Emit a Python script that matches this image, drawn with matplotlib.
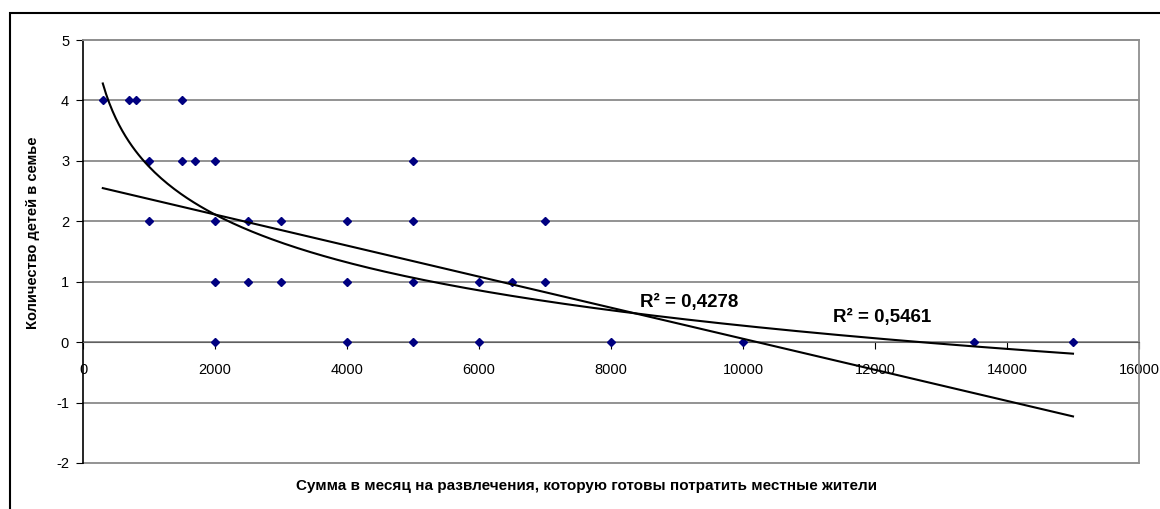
import numpy as np
import matplotlib.pyplot as plt
from matplotlib.patches import Rectangle

plt.rcParams['font.family'] = ['Liberation Sans', 'DejaVu Sans']
plt.rcParams['axes.unicode_minus'] = False

# spending per month (rub) and number of children, grouped by children count
spend_4 = [300, 700, 800, 1500]
spend_3 = [1000, 1500, 1700, 2000, 5000]
spend_2 = [1000, 2000, 2500, 3000, 4000, 5000, 7000]
spend_1 = [2000, 2500, 3000, 4000, 5000, 6000, 6500, 7000]
spend_0 = [2000, 4000, 5000, 6000, 8000, 10000, 13500, 15000]

spending = spend_4 + spend_3 + spend_2 + spend_1 + spend_0
children = [4] * len(spend_4) + [3] * len(spend_3) + [2] * len(spend_2) + [1] * len(spend_1) + [0] * len(spend_0)

# trendline coefficients
lin_slope, lin_icept = -0.000257, 2.626
log_a, log_b = -1.143, 10.80
r2_labels = ['R\u00b2 = 0,4278', 'R\u00b2 = 0,5461']
r2_pos = [(8440, 0.65), (11360, 0.40)]

x_ticks = list(range(0, 16001, 2000))
y_ticks = list(range(-2, 6))

fig = plt.figure(figsize=(11.6, 5.09), dpi=100)
ax = fig.add_axes([83 / 1160, 46 / 509, (1139 - 83) / 1160, (463 - 40) / 509])

ax.set_xlim(0, 16000)
ax.set_ylim(-2, 5)
ax.set_xticks(x_ticks)
ax.set_yticks(y_ticks)
for yv in y_ticks:
    ax.axhline(yv, color='#808080', lw=1.2, clip_on=False, zorder=0.5)

ax.spines['bottom'].set_position(('data', 0))
ax.spines['bottom'].set_color('#606060')
ax.spines['left'].set_color('black')
ax.spines['left'].set_linewidth(1.2)
for s in ('top', 'right'):
    ax.spines[s].set_color('#909090')
    ax.spines[s].set_linewidth(1.3)

ax.tick_params(axis='x', direction='out', length=5, pad=10, labelsize=10.5, color='black')
ax.tick_params(axis='y', direction='out', length=5, pad=5, labelsize=10.5, color='black')

ax.plot(spending, children, ls='none', marker='D', ms=4.5, color='#000080', zorder=3)

xs = np.linspace(min(spending), max(spending), 300)
ax.plot(xs, lin_slope * xs + lin_icept, color='black', lw=1.5, zorder=4)
ax.plot(xs, log_a * np.log(xs) + log_b, color='black', lw=1.5, zorder=4)

for txt, (tx, ty) in zip(r2_labels, r2_pos):
    ax.text(tx, ty, txt, fontsize=13.5, fontweight='bold', ha='left', va='center', zorder=5)

fig.text(33 / 1160, 1 - 233 / 509, 'Количество детей в семье', rotation=90,
         ha='center', va='center', fontsize=10.5, fontweight='bold')
fig.text(586 / 1160, 1 - 486 / 509, 'Сумма в месяц на развлечения, которую готовы потратить местные жители',
         ha='center', va='center', fontsize=11, fontweight='bold')

# outer chart frame, cut by the image edges on the right and bottom
fig.patches.append(Rectangle((10 / 1160, -0.2), 1.2, 1 - 13 / 509 + 0.2, transform=fig.transFigure,
                             fill=False, ec='black', lw=1.5))

fig.savefig('out.png', dpi=100)
